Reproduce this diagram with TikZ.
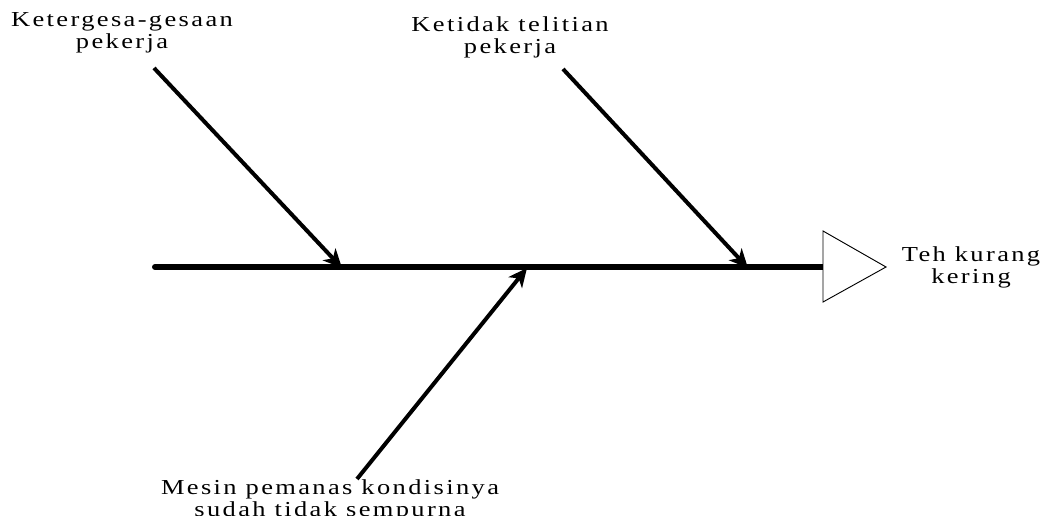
\documentclass[tikz,border=0pt]{standalone}
\usepackage{fontspec}
\setmainfont{Liberation Serif}[LetterSpace=9]
\usepackage{graphicx}
\usetikzlibrary{arrows.meta}
\newcommand\widelbl[1]{\scalebox{1.24}[1]{\begin{tabular}{@{}c@{}}#1\end{tabular}}}
\begin{document}
\begin{tikzpicture}[x=0.75pt,y=-0.75pt,
  lbl/.style={align=center,font=\fontsize{16pt}{16.2pt}\selectfont,inner sep=0pt},
  bone/.style={line width=3pt,-{Stealth[length=14pt,width=13pt,inset=4pt]}},
  spine/.style={line width=4.5pt,line cap=round}]
\useasboundingbox (0,0) rectangle (1045,516);
\coordinate (s0) at (155,267);
\coordinate (s1) at (824,267);
\draw[spine] (s0) -- (s1);
\draw[line width=0.7pt,fill=white] (823,231) coordinate (t1) -- (886,267) coordinate (t2) -- (823,302) coordinate (t3) -- cycle;
\node[lbl] (c1) at (122,33) {\widelbl{Ketergesa-gesaan\\pekerja}};
\node[lbl] (c2) at (510,38) {\widelbl{Ketidak telitian\\pekerja}};
\node[lbl] (c3) at (330,501) {\widelbl{Mesin pemanas kondisinya\\sudah tidak sempurna}};
\node[lbl] (eff) at (971,268) {\widelbl{Teh kurang\\kering}};
\coordinate (a1s) at (154,68);
\coordinate (a1e) at (342,268);
\coordinate (a2s) at (563,69);
\coordinate (a2e) at (748,268);
\coordinate (a3s) at (357,479);
\coordinate (a3e) at (527,268);
\draw[bone] (a1s) -- (a1e);
\draw[bone] (a2s) -- (a2e);
\draw[bone] (a3s) -- (a3e);
\end{tikzpicture}
\end{document}
